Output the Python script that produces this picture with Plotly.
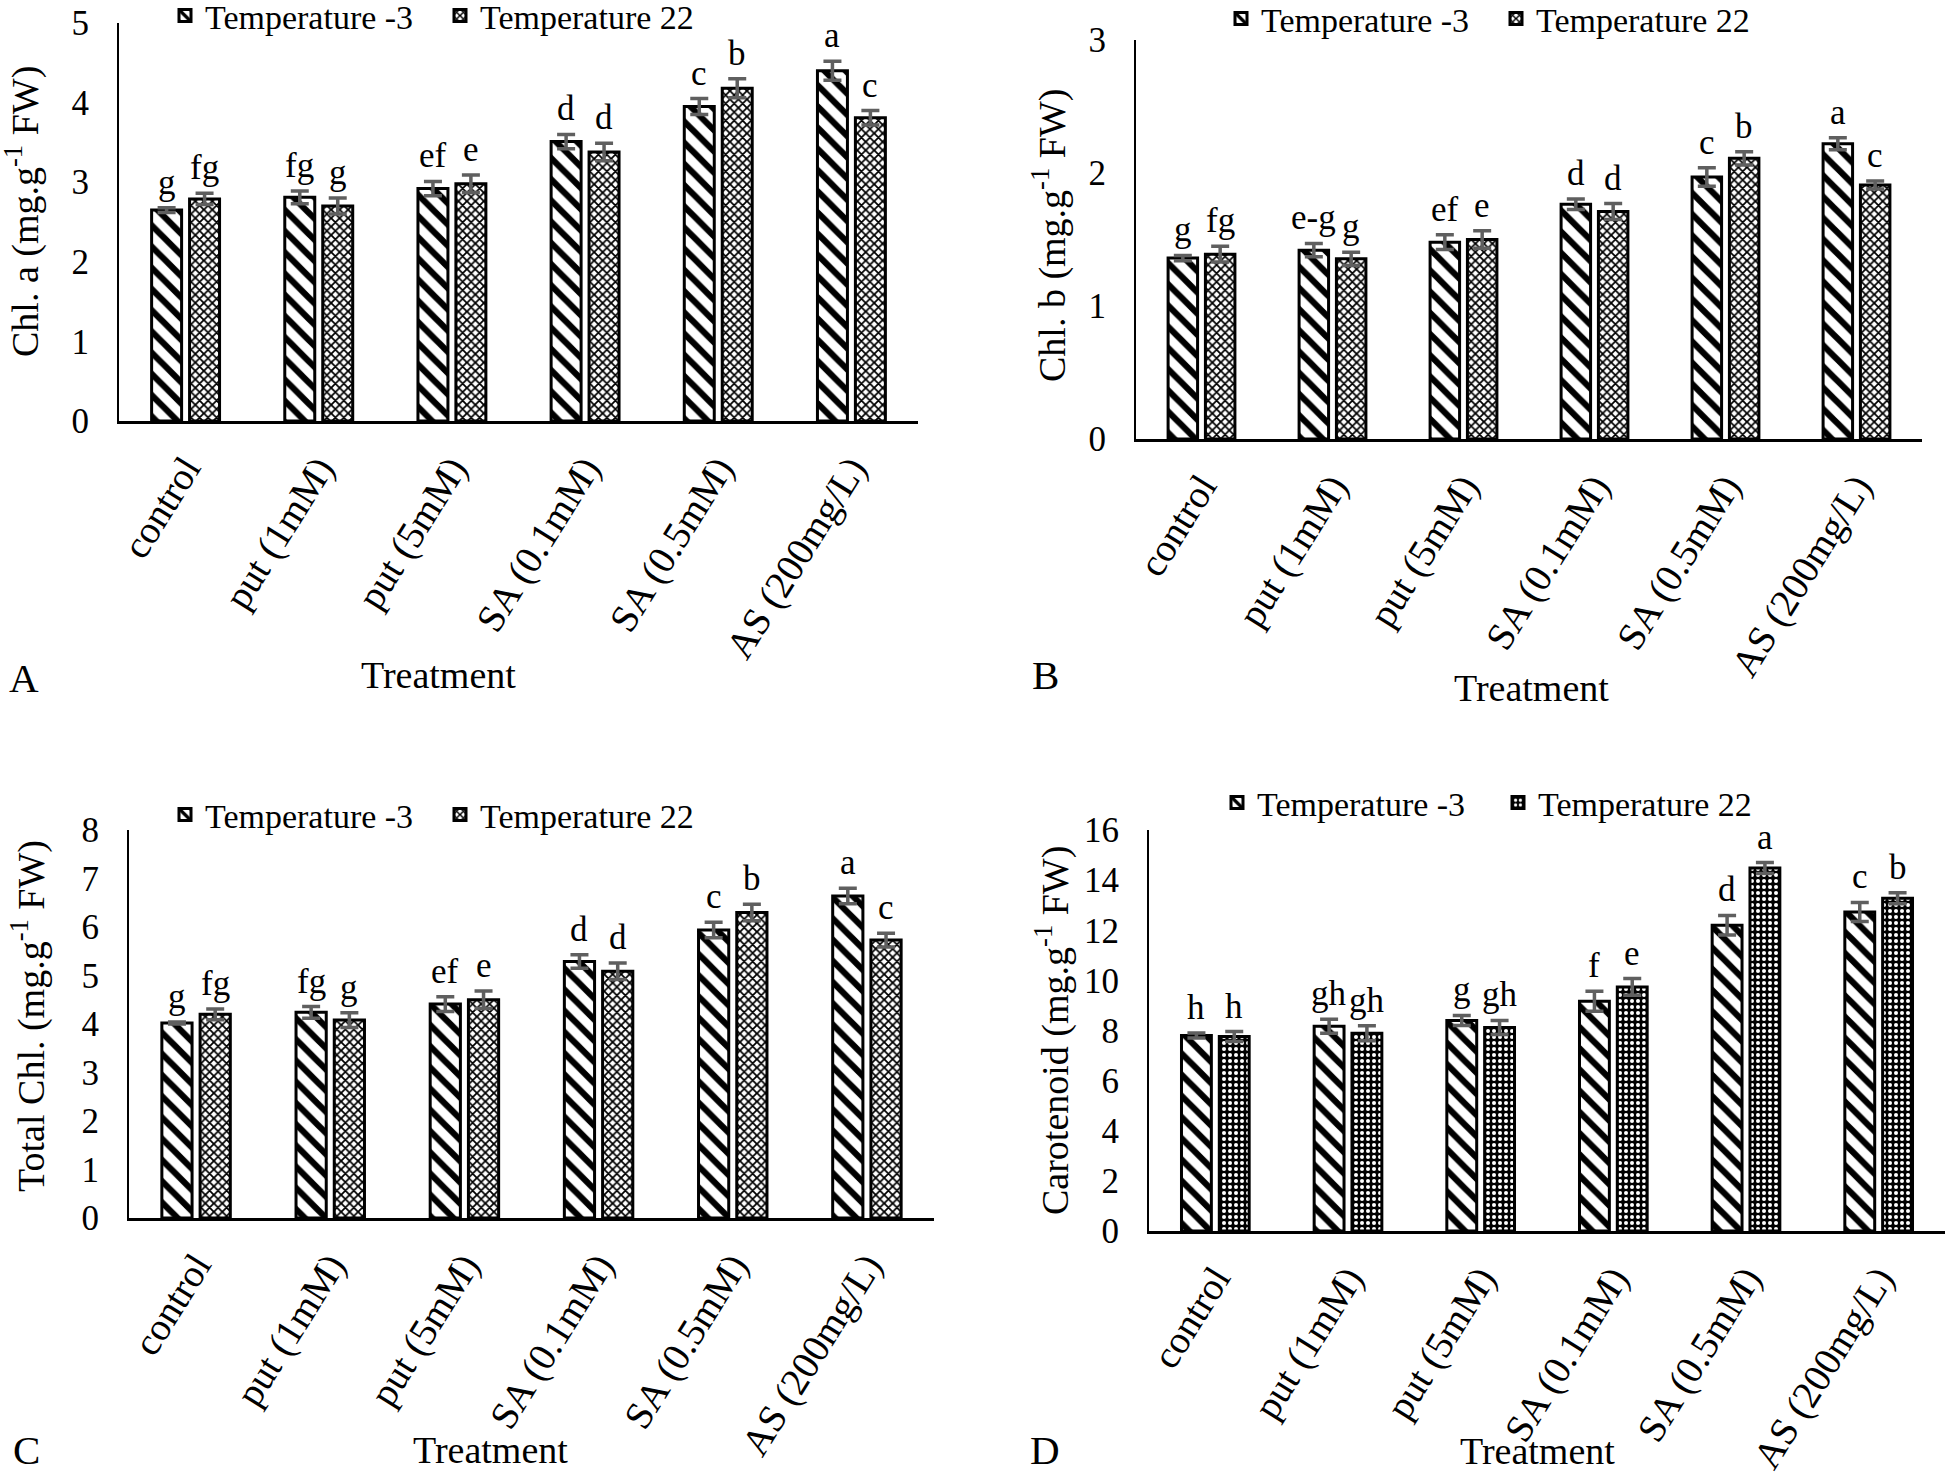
import plotly.graph_objects as go

categories = ["control", "put (1mM)", "put (5mM)", "SA (0.1mM)", "SA (0.5mM)", "AS (200mg/L)"]
series_names = ["Temperature -3", "Temperature 22"]

# Panel A: Chl. a
A_t3 = [2.65, 2.81, 2.92, 3.51, 3.95, 4.40]
A_t3_err = [0.03, 0.08, 0.09, 0.09, 0.10, 0.12]
A_t22 = [2.79, 2.70, 2.98, 3.38, 4.18, 3.81]
A_t22_err = [0.07, 0.10, 0.11, 0.11, 0.12, 0.09]
A_t3_let = ["g", "fg", "ef", "d", "c", "a"]
A_t22_let = ["fg", "g", "e", "d", "b", "c"]

# Panel B: Chl. b
B_t3 = [1.36, 1.42, 1.48, 1.765, 1.97, 2.22]
B_t3_err = [0.02, 0.05, 0.055, 0.04, 0.07, 0.045]
B_t22 = [1.39, 1.355, 1.50, 1.71, 2.11, 1.91]
B_t22_err = [0.06, 0.05, 0.065, 0.06, 0.05, 0.03]
B_t3_let = ["g", "e-g", "ef", "d", "c", "a"]
B_t22_let = ["fg", "g", "e", "d", "b", "c"]

# Panel C: Total Chl.
C_t3 = [4.02, 4.24, 4.41, 5.29, 5.94, 6.64]
C_t3_err = [0.02, 0.12, 0.15, 0.14, 0.16, 0.16]
C_t22 = [4.20, 4.08, 4.50, 5.09, 6.30, 5.73]
C_t22_err = [0.11, 0.15, 0.18, 0.17, 0.17, 0.14]
C_t3_let = ["g", "fg", "ef", "d", "c", "a"]
C_t22_let = ["fg", "g", "e", "d", "b", "c"]

# Panel D: Carotenoid
D_t3 = [7.80, 8.17, 8.40, 9.17, 12.20, 12.73]
D_t3_err = [0.10, 0.28, 0.20, 0.40, 0.39, 0.38]
D_t22 = [7.76, 7.89, 8.12, 9.74, 14.48, 13.28]
D_t22_err = [0.20, 0.30, 0.28, 0.33, 0.22, 0.22]
D_t3_let = ["h", "gh", "g", "f", "d", "c"]
D_t22_let = ["h", "gh", "gh", "e", "a", "b"]

W, H = 1945, 1476
FONT = "Liberation Serif, Times New Roman, serif"
BARGAP = 0.43
BARGROUPGAP = 0.21


def px_x(x):
    return min(max(x / W, 0.0), 1.0)


def px_y(y):
    return min(max(1 - y / H, 0.0), 1.0)


# panel geometry in pixels: (x_left, x_right, y_top, y_bottom)
panels = [
    dict(key="", data=(A_t3, A_t3_err, A_t22, A_t22_err, A_t3_let, A_t22_let),
         px=(119, 918, 23, 421), yr=5, dtick=1,
         ytitle="Chl. a (mg.g<sup>-1</sup> FW)", ytitle_pos=(22, 212),
         xtitle_pos=(438, 675), label="A", label_pos=(24, 678),
         legend_pos=(195, 16), entry=230,
         t22=dict(shape="x", size=6, solidity=0.5, fg="black", bg="white")),
    dict(key="2", data=(B_t3, B_t3_err, B_t22, B_t22_err, B_t3_let, B_t22_let),
         px=(1136, 1922, 40, 439), yr=3, dtick=1,
         ytitle="Chl. b (mg.g<sup>-1</sup> FW)", ytitle_pos=(1050, 236),
         xtitle_pos=(1531, 688), label="B", label_pos=(1045, 675),
         legend_pos=(1251, 19), entry=230,
         t22=dict(shape="x", size=6, solidity=0.5, fg="black", bg="white")),
    dict(key="3", data=(C_t3, C_t3_err, C_t22, C_t22_err, C_t3_let, C_t22_let),
         px=(129, 934, 830, 1218), yr=8, dtick=1,
         ytitle="Total Chl. (mg.g<sup>-1</sup> FW)", ytitle_pos=(28, 1016),
         xtitle_pos=(490, 1450), label="C", label_pos=(26, 1450),
         legend_pos=(195, 815), entry=230,
         t22=dict(shape="x", size=6, solidity=0.5, fg="black", bg="white")),
    dict(key="4", data=(D_t3, D_t3_err, D_t22, D_t22_err, D_t3_let, D_t22_let),
         px=(1149, 1945, 830, 1231), yr=16, dtick=2,
         ytitle="Carotenoid (mg.g<sup>-1</sup> FW)", ytitle_pos=(1052, 1031),
         xtitle_pos=(1537, 1451), label="D", label_pos=(1045, 1450),
         legend_pos=(1247, 803), entry=236,
         t22=dict(shape=".", size=6, solidity=0.35, fg="white", bg="black")),
]

fig = go.Figure()
annotations = []
layout = {}

for i, p in enumerate(panels):
    k = p["key"]
    xl, xr, yt, yb = p["px"]
    t3, t3e, t22, t22e, l3, l22 = p["data"]
    xa = "x" + k
    ya = "y" + k
    leg = "legend" if k == "" else "legend" + str(i + 1)
    err_style = dict(type="data", color="#5f5f5f", thickness=3.5, width=9, visible=True)
    fig.add_trace(go.Bar(
        x=categories, y=t3, name=series_names[0], xaxis=xa, yaxis=ya, legend=leg,
        error_y=dict(array=t3e, **err_style),
        marker=dict(color="white", line=dict(color="black", width=3),
                    pattern=dict(shape="\\", size=15, solidity=0.42, fgcolor="black",
                                 bgcolor="white", fillmode="replace")),
    ))
    s = p["t22"]
    fig.add_trace(go.Bar(
        x=categories, y=t22, name=series_names[1], xaxis=xa, yaxis=ya, legend=leg,
        error_y=dict(array=t22e, **err_style),
        marker=dict(color="white", line=dict(color="black", width=3),
                    pattern=dict(shape=s["shape"], size=s["size"], solidity=s["solidity"],
                                 fgcolor=s["fg"], bgcolor=s["bg"], fillmode="replace")),
    ))
    layout["xaxis" + k] = dict(
        domain=[px_x(xl), px_x(xr)], anchor=ya, type="category",
        showline=True, linecolor="black", linewidth=3, ticks="",
        tickangle=-58, tickfont=dict(family=FONT, size=39, color="black"),
        ticklabelstandoff=6, ticklabeloverflow="allow",
        showgrid=False, zeroline=False, fixedrange=True,
    )
    layout["yaxis" + k] = dict(
        domain=[px_y(yb), px_y(yt)], anchor=xa, range=[0, p["yr"]], dtick=p["dtick"],
        showline=True, linecolor="black", linewidth=2, ticks="", ticklabelstandoff=21,
        ticklabeloverflow="allow",
        tickfont=dict(family=FONT, size=35, color="black"),
        showgrid=False, zeroline=False, fixedrange=True,
    )
    lx, ly = p["legend_pos"]
    layout[leg] = dict(
        orientation="h", x=px_x(lx - 30), y=px_y(ly), xanchor="left", yanchor="middle",
        font=dict(family=FONT, size=34, color="black"), bgcolor="rgba(0,0,0,0)",
        entrywidth=p["entry"], tracegroupgap=0, itemwidth=30,
    )
    # letters above error bars
    cat_px = (xr - xl) / len(categories)
    off = (1 - BARGAP) * cat_px / 4
    for vals, errs, lets, sgn in ((t3, t3e, l3, -1), (t22, t22e, l22, 1)):
        for c, v, e, t in zip(categories, vals, errs, lets):
            annotations.append(dict(
                x=c, y=v + e, xref=xa, yref=ya, text=t, showarrow=False,
                xanchor="center", yanchor="bottom", xshift=sgn * off, yshift=4,
                font=dict(family=FONT, size=35, color="black")))
    tx, ty = p["ytitle_pos"]
    annotations.append(dict(x=px_x(tx), y=px_y(ty), xref="paper", yref="paper",
                            text=p["ytitle"], textangle=-90, showarrow=False,
                            xanchor="center", yanchor="middle",
                            font=dict(family=FONT, size=38, color="black")))
    tx, ty = p["xtitle_pos"]
    annotations.append(dict(x=px_x(tx), y=px_y(ty), xref="paper", yref="paper",
                            text="Treatment", showarrow=False,
                            xanchor="center", yanchor="middle",
                            font=dict(family=FONT, size=38, color="black")))
    tx, ty = p["label_pos"]
    annotations.append(dict(x=px_x(tx), y=px_y(ty), xref="paper", yref="paper",
                            text=p["label"], showarrow=False,
                            xanchor="center", yanchor="middle",
                            font=dict(family=FONT, size=41, color="black")))

fig.update_layout(
    width=W, height=H, margin=dict(l=0, r=0, t=0, b=0, pad=0, autoexpand=False),
    paper_bgcolor="white", plot_bgcolor="white",
    barmode="group", bargap=BARGAP, bargroupgap=BARGROUPGAP,
    showlegend=True, annotations=annotations, hovermode=False, **layout,
)

# remove the default page margin so that the figure fills the window exactly
fig.write_html("out.html", config={"displayModeBar": False},
               post_script="document.body.style.margin='0';")
